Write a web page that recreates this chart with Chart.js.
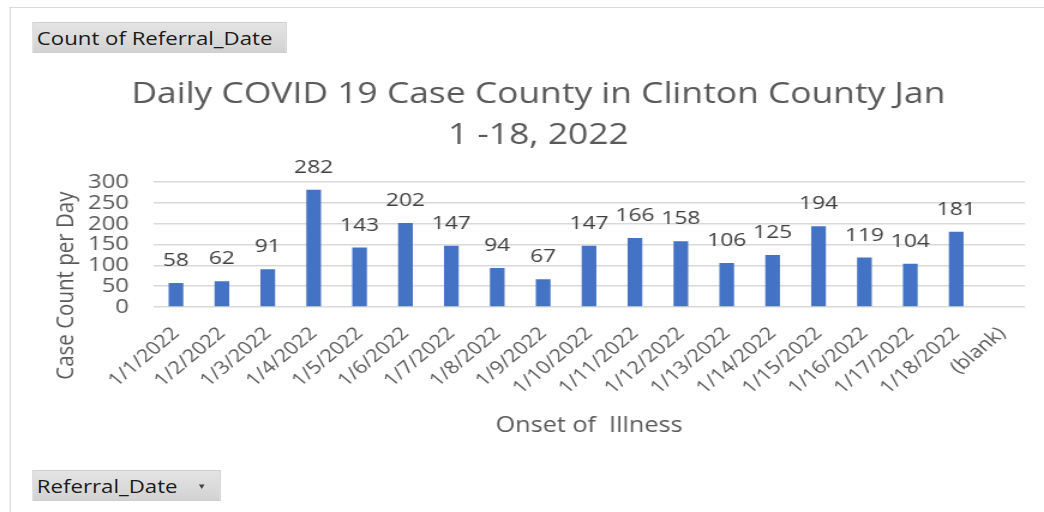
<!DOCTYPE html>
<html lang="en">
<head>
  <meta charset="UTF-8" />
  <title>Daily COVID 19 Case County in Clinton County</title>
  <script src="https://cdn.jsdelivr.net/npm/chart.js"></script>
  <style>
    body {
      margin: 0;
      background: #ffffff;
      font-family: "Open Sans", Arial, sans-serif;
      overflow: hidden;
    }

    /* the source screenshot is stretched sideways, so the whole sheet is too */
    .sheet {
      position: absolute;
      left: 0;
      top: 0;
      width: 870px;
      height: 512px;
      transform: scaleX(1.2);
      transform-origin: 0 0;
    }

    .frame {
      position: absolute;
      left: 7.5px;
      top: 7px;
      width: 863px;
      height: 505px;
      border-top: 1px solid #d9d9d9;
      border-left: 1px solid #d9d9d9;
    }

    canvas {
      position: absolute;
      left: 0;
      top: 0;
    }

    .pivot-btn {
      position: absolute;
      left: 26.7px;
      height: 31px;
      box-sizing: border-box;
      padding-left: 3px;
      line-height: 30px;
      font-size: 18.5px;
      color: #1a1a1a;
      background: linear-gradient(#e4e4e4, #d2d2d2);
      border: 1px solid #cfcfcf;
    }

    .pivot-btn .arrow {
      position: absolute;
      right: 11px;
      top: 0;
      font-size: 8px;
      color: #444;
    }
  </style>
</head>
<body>
  <div class="sheet">
    <div class="frame"></div>
    <canvas id="casesChart" width="870" height="512"></canvas>
    <div class="pivot-btn" style="top:22px; width:212.5px;">Count of Referral_Date</div>
    <div class="pivot-btn" style="top:470px; width:157.5px;">Referral_Date <span class="arrow">&#9660;</span></div>
  </div>

  <script>
    const dates = ['1/1/2022', '1/2/2022', '1/3/2022', '1/4/2022', '1/5/2022', '1/6/2022',
      '1/7/2022', '1/8/2022', '1/9/2022', '1/10/2022', '1/11/2022', '1/12/2022',
      '1/13/2022', '1/14/2022', '1/15/2022', '1/16/2022', '1/17/2022', '1/18/2022', '(blank)'];
    const caseCounts = [58, 62, 91, 282, 143, 202, 147, 94, 67, 147, 166, 158, 106, 125, 194, 119, 104, 181, null];
    const yTicks = [0, 50, 100, 150, 200, 250, 300];

    const textGrey = '#595959';
    const font = '"Open Sans", Arial, sans-serif';

    // value labels above the bars + y axis title (Excel centres it lower than chart.js does)
    const extras = {
      id: 'extras',
      afterDatasetsDraw(chart) {
        const ctx = chart.ctx;
        const meta = chart.getDatasetMeta(0);
        ctx.save();
        ctx.font = '19px ' + font;
        ctx.fillStyle = '#404040';
        ctx.textAlign = 'center';
        ctx.textBaseline = 'alphabetic';
        meta.data.forEach((bar, i) => {
          const v = caseCounts[i];
          if (v == null) return;
          ctx.fillText(v, bar.x, bar.y - 17);
        });

        const area = chart.chartArea;
        const yScale = chart.scales.y;
        const midY = (area.top + chart.scales.x.bottom - 50) / 2;
        ctx.translate(yScale.left + 12, midY);
        ctx.rotate(-Math.PI / 2);
        ctx.font = '20.5px ' + font;
        ctx.fillStyle = textGrey;
        ctx.textBaseline = 'middle';
        ctx.fillText('Case Count per Day', 0, 0);
        ctx.restore();
      }
    };

    const ctx = document.getElementById('casesChart').getContext('2d');
    const chart = new Chart(ctx, {
      type: 'bar',
      data: {
        labels: dates,
        datasets: [{
          label: 'Count of Referral_Date',
          data: caseCounts,
          backgroundColor: '#4472c4',
          borderWidth: 0,
          categoryPercentage: 1,
          barPercentage: 0.32
        }]
      },
      options: {
        responsive: false,
        animation: false,
        layout: {
          padding: { top: 75, left: 43, right: 15.8, bottom: 73 }
        },
        scales: {
          x: {
            grid: { display: false },
            border: { display: false },
            ticks: {
              color: textGrey,
              font: { size: 18, family: font },
              minRotation: 45,
              maxRotation: 45,
              autoSkip: false,
              padding: 8
            },
            title: {
              display: true,
              text: 'Onset of  Illness',
              color: textGrey,
              font: { size: 21, family: font },
              padding: 0
            },
            afterFit(scale) { scale.height = 132; }
          },
          y: {
            min: 0,
            max: 300,
            afterBuildTicks(scale) { scale.ticks = yTicks.map(v => ({ value: v })); },
            grid: { color: '#d9d9d9', lineWidth: 1.5, drawTicks: false },
            border: { display: false },
            ticks: {
              color: textGrey,
              font: { size: 20, family: font },
              autoSkip: false,
              padding: 20
            },
            afterFit(scale) { scale.width = 84.5; }
          }
        },
        plugins: {
          legend: { display: false },
          tooltip: { enabled: false },
          title: {
            display: true,
            text: ['Daily COVID 19 Case County in Clinton County Jan', '1 -18, 2022'],
            color: textGrey,
            font: { size: 29.5, weight: 'normal', family: font, lineHeight: 1.36 },
            padding: { top: 0, bottom: 27 }
          }
        }
      },
      plugins: [extras]
    });
  </script>
</body>
</html>
